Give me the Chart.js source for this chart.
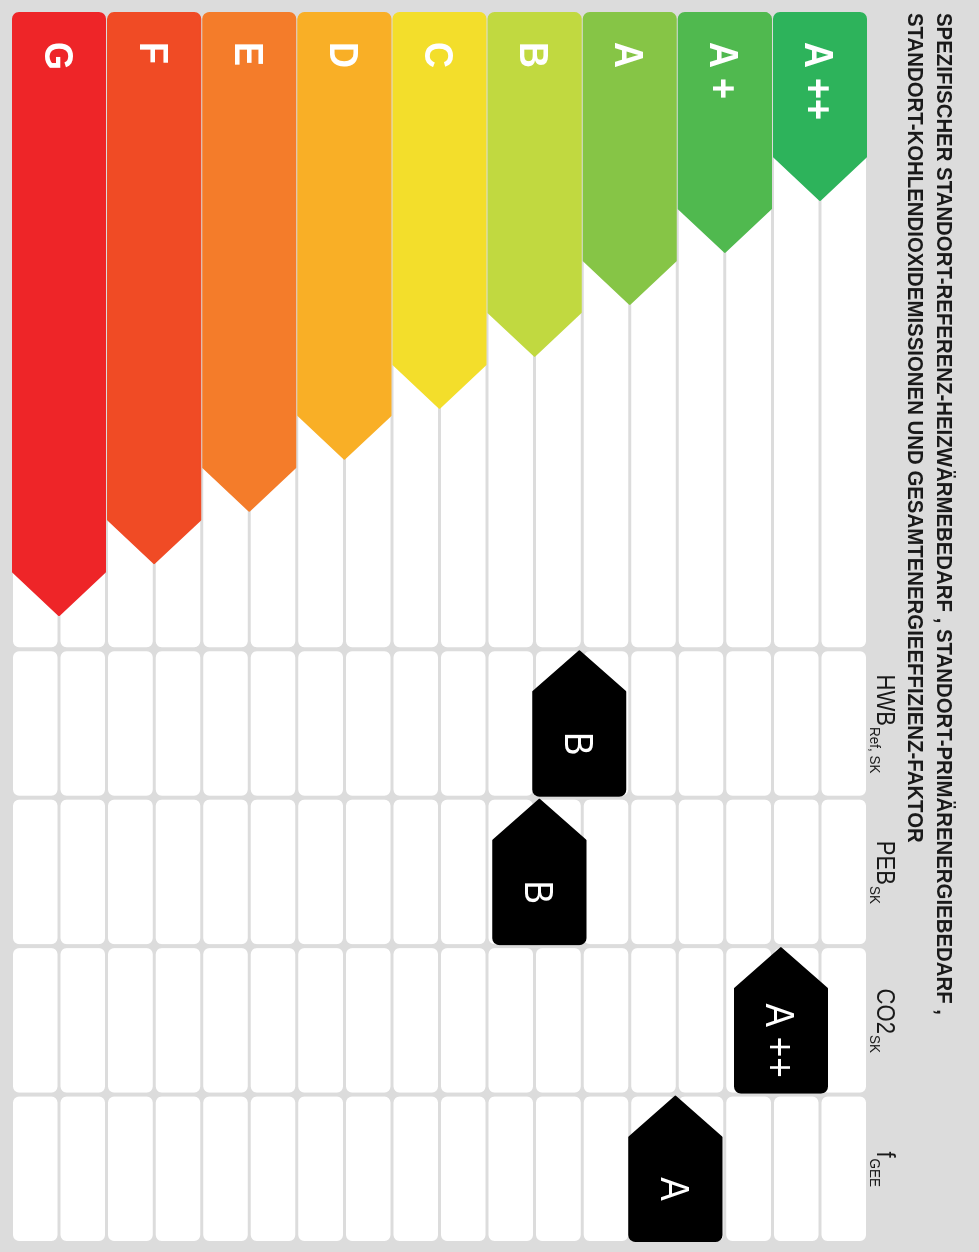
<!DOCTYPE html>
<html>
<head>
<meta charset="utf-8">
<script src="https://cdn.jsdelivr.net/npm/chart.js@4.4.0/dist/chart.umd.min.js"></script>
<style>
	html, body { margin: 0; padding: 0; background: #dcdcdc; overflow: hidden; width: 979px; height: 1252px; }
	/* chart is drawn landscape and turned a quarter clockwise */
	#wrap { position: absolute; left: 0; top: 0; width: 1252px; height: 979px; transform-origin: 0 0; transform: translate(979px, 0) rotate(90deg); }
</style>
</head>
<body>
<div id="wrap"><canvas id="energyChart" width="1252" height="979"></canvas></div>
<script>
	// classes, top row first
	const classNames = ['A ++', 'A +', 'A', 'B', 'C', 'D', 'E', 'F', 'G'];
	const classColors = ['#2db35b', '#50b94f', '#86c546', '#c1d940', '#f3de2b', '#f9af26', '#f47c2a', '#f04b25', '#ee2528'];
	const classBarEnds = [3.82, 4.87, 5.92, 6.97, 8.02, 9.05, 10.10, 11.16, 12.21];

	// indicators and where their marker sits on the class scale
	const indicatorNames = ['HWB', 'PEB', 'CO2', 'f'];
	const indicatorSubs = ['Ref, SK', 'SK', 'SK', 'GEE'];
	const indicatorValues = [2.53, 2.95, 0.41, 1.52];
	const indicatorClasses = ['B', 'B', 'A ++', 'A'];

	const titleLines = [
		'SPEZIFISCHER STANDORT-REFERENZ-HEIZWÄRMEBEDARF , STANDORT-PRIMÄRENERGIEBEDARF ,',
		'STANDORT-KOHLENDIOXIDEMISSIONEN UND GESAMTENERGIEEFFIZIENZ-FAKTOR'
	];

	const mainWidth = 12.9; // x units of the class bar section
	const colWidth = 3;     // x units of one indicator column
	const FONT = '"Liberation Sans", Arial, sans-serif';

	function pentagon(c, baseX, tipX, top, bottom, r, pointRatio) {
		var mid = (top + bottom) / 2;
		var dir = tipX > baseX ? 1 : -1;
		var shoulder = tipX - dir * (bottom - top) * pointRatio;
		c.beginPath();
		c.moveTo(tipX, mid);
		c.lineTo(shoulder, top);
		c.arcTo(baseX, top, baseX, bottom, r);
		c.arcTo(baseX, bottom, shoulder, bottom, r);
		c.lineTo(shoulder, bottom);
		c.closePath();
	}

	function squeezedText(c, text, x, y, sx) {
		c.save();
		c.translate(x, y);
		c.scale(sx, 1);
		c.fillText(text, 0, 0);
		c.restore();
	}

	const energyPlugin = {
		id: 'energyPlugin',
		beforeDatasetsDraw(chart) {
			var c = chart.ctx, xs = chart.scales.x, ys = chart.scales.y;
			var edges = [0, mainWidth];
			indicatorNames.forEach((n, j) => edges.push(mainWidth + colWidth * (j + 1)));
			c.save();
			c.fillStyle = '#ffffff';
			classNames.forEach((n, i) => {
				var top = ys.getPixelForValue(i - 0.5);
				var bot = ys.getPixelForValue(i + 0.5);
				var mid = (top + bot) / 2;
				for (var s = 0; s < edges.length - 1; s++) {
					var l = xs.getPixelForValue(edges[s]) + 2;
					var r = xs.getPixelForValue(edges[s + 1]) - 2;
					c.beginPath();
					c.roundRect(l, top + 1.5, r - l, mid - top - 3, 6);
					c.roundRect(l, mid + 1.5, r - l, bot - mid - 3, 6);
					c.fill();
				}
			});
			c.restore();
		},
		beforeDatasetDraw() {
			return false;
		},
		afterDatasetsDraw(chart) {
			var c = chart.ctx, xs = chart.scales.x, ys = chart.scales.y;
			c.save();
			c.lineJoin = 'round';
			c.lineWidth = 2;

			// class bars
			chart.getDatasetMeta(0).data.forEach((bar, i) => {
				var h = bar.height - 3;
				var top = bar.y - h / 2;
				pentagon(c, bar.base + 2, bar.x, top, top + h, 6, 0.47);
				c.fillStyle = classColors[i];
				c.strokeStyle = classColors[i];
				c.fill();
				c.stroke();
				c.fillStyle = '#ffffff';
				c.font = 'bold 40px ' + FONT;
				c.textAlign = 'left';
				c.textBaseline = 'alphabetic';
				squeezedText(c, classNames[i], bar.base + 31, bar.y + 14.5, 0.9);
			});

			// indicator markers
			var rowH = Math.abs(ys.getPixelForValue(1) - ys.getPixelForValue(0)) - 3;
			var halfW = (xs.getPixelForValue(colWidth) - xs.getPixelForValue(0)) / 2 - 2;
			chart.getDatasetMeta(1).data.forEach((pt, j) => {
				var left = pt.x - halfW, right = pt.x + halfW;
				var top = pt.y - rowH / 2;
				pentagon(c, right, left, top, top + rowH, 6, 0.44);
				c.fillStyle = '#000000';
				c.strokeStyle = '#000000';
				c.fill();
				c.stroke();
				c.fillStyle = '#ffffff';
				c.font = '40px ' + FONT;
				c.textAlign = 'center';
				c.textBaseline = 'alphabetic';
				squeezedText(c, indicatorClasses[j], (left + rowH * 0.44 + right) / 2, pt.y + 14.5, 0.88);
			});
			c.restore();
		},
		afterDraw(chart) {
			var c = chart.ctx, xs = chart.scales.x, area = chart.chartArea;
			c.save();
			c.fillStyle = '#1a1a1a';
			c.textAlign = 'left';
			c.textBaseline = 'alphabetic';

			// title, squeezed to the width it takes in the certificate
			c.font = 'bold 22px ' + FONT;
			var sx = 1002 / c.measureText(titleLines[0]).width;
			squeezedText(c, titleLines[0], area.left + 2, area.top - 69.5, sx);
			squeezedText(c, titleLines[1], area.left + 2, area.top - 40.5, sx);

			// column headers with subscripts
			indicatorNames.forEach((name, j) => {
				var cx = xs.getPixelForValue(mainWidth + colWidth * (j + 0.5));
				c.font = '26px ' + FONT;
				var w1 = c.measureText(name).width * 0.85;
				c.font = '15px ' + FONT;
				var w2 = c.measureText(indicatorSubs[j]).width * 0.9;
				var x0 = cx - (w1 + w2) / 2;
				c.font = '26px ' + FONT;
				squeezedText(c, name, x0, area.top - 9.5, 0.85);
				c.font = '15px ' + FONT;
				squeezedText(c, indicatorSubs[j], x0 + w1 + 1, area.top - 2.5, 0.9);
			});
			c.restore();
		}
	};

	var ctx = document.getElementById('energyChart').getContext('2d');
	var myChart = new Chart(ctx, {
		type: 'bar',
		data: {
			datasets: [
				{
					type: 'bar',
					indexAxis: 'y',
					data: classBarEnds.map((v, i) => ({ x: v, y: i })),
					backgroundColor: classColors,
					barPercentage: 1,
					categoryPercentage: 1
				},
				{
					type: 'scatter',
					data: indicatorValues.map((v, j) => ({ x: mainWidth + colWidth * (j + 0.5), y: v })),
					pointRadius: 0,
					backgroundColor: '#000000'
				}
			]
		},
		options: {
			responsive: false,
			animation: false,
			events: [],
			layout: {
				padding: { left: 11, right: 9, top: 111.5, bottom: 11.5 }
			},
			scales: {
				x: {
					type: 'linear',
					display: false,
					offset: false,
					min: 0,
					max: mainWidth + colWidth * indicatorNames.length,
					grid: { offset: false }
				},
				y: {
					type: 'linear',
					display: false,
					offset: false,
					reverse: true,
					min: -0.5,
					max: classNames.length - 0.5,
					grid: { offset: false },
					afterBuildTicks: (scale) => {
						scale.ticks = classNames.map((n, i) => ({ value: i }));
					}
				}
			},
			plugins: {
				legend: { display: false },
				tooltip: { enabled: false },
				title: { display: false }
			}
		},
		plugins: [energyPlugin]
	});
</script>
</body>
</html>
